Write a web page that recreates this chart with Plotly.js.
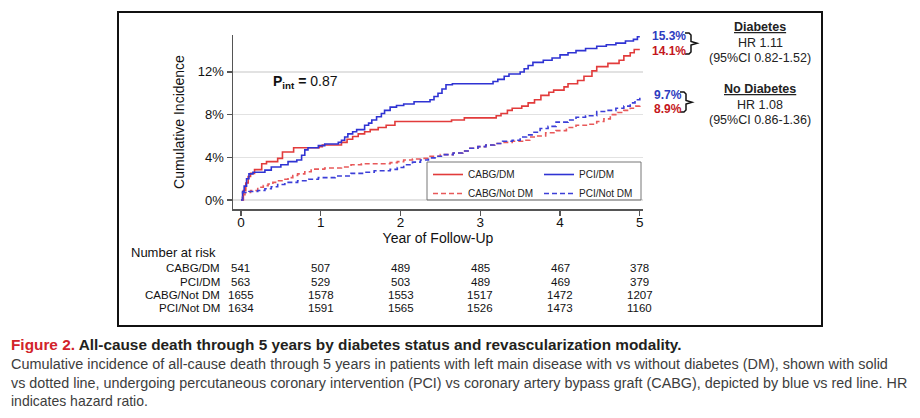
<!DOCTYPE html>
<html><head><meta charset="utf-8">
<script src="https://cdn.plot.ly/plotly-3.0.1.min.js"></script>
<style>html,body{margin:0;padding:0;background:#fff}#chart{width:920px;height:418px}</style>
</head><body><div id="chart"></div>
<script>
// ---------- data ----------
const seriesNames = ['CABG/DM', 'PCI/DM', 'CABG/Not DM', 'PCI/Not DM'];

const cabgDmX = [0,0.03,0.06,0.09,0.12,0.17,0.26,0.32,0.46,0.52,0.66,0.98,1.02,1.26,1.33,1.40,1.47,1.55,1.62,1.72,1.82,1.93,2.64,2.80,3.20,3.26,3.34,3.40,3.52,3.60,3.68,3.76,3.86,3.92,4.05,4.10,4.22,4.30,4.40,4.46,4.60,4.74,4.80,4.88,4.93,5.0];
const cabgDmY = [0,0.9,1.6,2.2,2.5,2.85,3.4,3.6,3.9,4.5,4.9,5.0,5.15,5.4,5.7,5.95,6.2,6.4,6.6,6.8,7.0,7.35,7.5,7.7,7.9,8.1,8.4,8.6,8.8,9.1,9.4,9.8,10.1,10.3,10.6,10.9,11.2,11.6,12.1,12.5,12.8,13.1,13.5,13.8,14.1,14.1];

const pciDmX = [0,0.02,0.04,0.07,0.10,0.15,0.30,0.38,0.50,0.59,0.70,0.76,0.80,0.84,0.97,1.05,1.22,1.26,1.30,1.34,1.40,1.45,1.55,1.60,1.64,1.70,1.76,1.80,1.87,1.95,2.04,2.17,2.37,2.42,2.47,2.52,2.57,2.65,3.16,3.22,3.30,3.36,3.50,3.55,3.60,3.66,3.79,3.90,4.00,4.10,4.20,4.32,4.46,4.58,4.70,4.82,4.92,4.97,5.0];
const pciDmY = [0,0.8,1.3,2.0,2.45,2.6,2.8,3.1,3.3,3.6,3.75,4.2,4.7,4.9,5.1,5.25,5.4,5.6,5.9,6.2,6.4,6.6,7.0,7.2,7.5,7.8,8.1,8.4,8.7,8.85,9.0,9.2,9.4,9.7,10.0,10.4,10.8,10.9,11.1,11.3,11.6,11.8,12.0,12.3,12.6,12.9,13.1,13.3,13.6,13.8,14.0,14.2,14.4,14.55,14.7,14.9,15.05,15.3,15.3];

const cabgNotDmX = [0,0.02,0.05,0.12,0.21,0.28,0.34,0.40,0.46,0.53,0.59,0.65,0.71,0.80,0.88,1.05,1.26,1.38,1.51,1.70,1.87,1.96,2.04,2.15,2.25,2.37,2.50,2.66,2.78,2.87,2.97,3.07,3.18,3.28,3.40,3.53,3.62,3.70,3.82,3.95,4.08,4.20,4.33,4.46,4.55,4.63,4.72,4.80,4.88,4.95,5.0];
const cabgNotDmY = [0,0.5,0.7,0.9,1.2,1.35,1.5,1.65,1.8,1.95,2.1,2.3,2.45,2.65,2.9,3.0,3.1,3.3,3.4,3.4,3.5,3.6,3.75,3.85,3.9,4.1,4.25,4.4,4.6,4.85,5.0,5.15,5.3,5.4,5.5,5.6,5.9,6.0,6.3,6.5,6.8,7.0,7.1,7.35,7.6,8.0,8.2,8.4,8.6,8.8,8.9];

const pciNotDmX = [0,0.02,0.10,0.21,0.30,0.38,0.46,0.55,0.71,0.85,0.97,1.18,1.38,1.55,1.67,1.87,1.96,2.04,2.15,2.25,2.35,2.45,2.55,2.66,2.78,2.87,2.97,3.07,3.18,3.28,3.40,3.50,3.58,3.66,3.75,3.85,3.95,4.10,4.20,4.32,4.46,4.58,4.70,4.80,4.88,4.94,5.0];
const pciNotDmY = [0,0.7,0.8,0.9,1.05,1.25,1.45,1.65,1.8,1.95,2.1,2.25,2.5,2.6,2.75,2.87,3.05,3.3,3.55,3.75,3.95,4.1,4.25,4.4,4.6,4.85,5.0,5.15,5.3,5.5,5.6,5.9,6.1,6.35,6.7,6.9,7.3,7.5,7.75,7.9,8.3,8.4,8.6,8.8,9.1,9.4,9.7];

const yTickVals = [0, 4, 8, 12];
const yTickText = ['0%', '4%', '8%', '12%'];
const xTickVals = [0, 1, 2, 3, 4, 5];

const riskYears = [0, 1, 2, 3, 4, 5];
const riskCabgDm = [541, 507, 489, 485, 467, 378];
const riskPciDm = [563, 529, 503, 489, 469, 379];
const riskCabgNotDm = [1655, 1578, 1553, 1517, 1472, 1207];
const riskPciNotDm = [1634, 1591, 1565, 1526, 1473, 1160];

const endDm = ['15.3%', '14.1%'];
const endNoDm = ['9.7%', '8.9%'];
const hrDm = ['Diabetes', 'HR 1.11', '(95%CI 0.82-1.52)'];
const hrNoDm = ['No Diabetes', 'HR 1.08', '(95%CI 0.86-1.36)'];
const pInt = '0.87';

const captionLabel = 'Figure 2.';
const captionTitle = 'All-cause death through 5 years by diabetes status and revascularization modality.';
const captionLines = [
  'Cumulative incidence of all-cause death through 5 years in patients with left main disease with vs without diabetes (DM), shown with solid',
  'vs dotted line, undergoing percutaneous coronary intervention (PCI) vs coronary artery bypass graft (CABG), depicted by blue vs red line. HR',
  'indicates hazard ratio.'
];

// ---------- geometry / style ----------
const FW = 920, FH = 418;
const L = 233, R = 277, T = 35, B = 209;
const W = FW - L - R, H = FH - T - B;
const px = v => (v - L) / W;
const py = v => (FH - B - v) / H;
const pathFrom = pts => pts.map((p, i) => (i ? 'L' : 'M') + px(p[0]).toFixed(5) + ',' + py(p[1]).toFixed(5)).join(' ');

const RED = '#e23b3b', BLUE = '#2f33d3', RED_D = '#e8595a', BLUE_D = '#3c3fd8';
const FONT = 'Liberation Sans, Arial, sans-serif';
// caption: pixel rows and rendered widths (condensed face emulated by horizontal scaling)
const capRowsY = [344, 363.3, 382.7, 400.7];
const capWidths = [671, 877, 897, 137];

const mk = (name, x, y, color, dash, legend) => ({
  type: 'scatter', mode: 'lines', name, x, y, legend,
  line: {color, width: 1.6, dash, shape: 'hv'}, hoverinfo: 'skip'
});

const traces = [
  mk(seriesNames[0], cabgDmX, cabgDmY, RED, 'solid', 'legend'),
  mk(seriesNames[1], pciDmX, pciDmY, BLUE, 'solid', 'legend2'),
  mk(seriesNames[2], cabgNotDmX, cabgNotDmY, RED_D, '5px,3px', 'legend'),
  mk(seriesNames[3], pciNotDmX, pciNotDmY, BLUE_D, '5px,3px', 'legend2')
];

const ann = [];
ann.push({xref:'paper', yref:'paper', x:px(271), y:py(82), xanchor:'left', yanchor:'middle', showarrow:false,
  text:'<b>P<sub>int</sub> =</b> ' + pInt, font:{family:FONT, size:14, color:'#111'}});
const endFont = c => ({family:FONT, size:12, color:c});
ann.push({xref:'paper', yref:'paper', x:px(650), y:py(36), xanchor:'left', yanchor:'middle', showarrow:false, text:'<b>'+endDm[0]+'</b>', font:endFont('#2d3cc0')});
ann.push({xref:'paper', yref:'paper', x:px(650), y:py(51), xanchor:'left', yanchor:'middle', showarrow:false, text:'<b>'+endDm[1]+'</b>', font:endFont('#c4161c')});
ann.push({xref:'paper', yref:'paper', x:px(652), y:py(95), xanchor:'left', yanchor:'middle', showarrow:false, text:'<b>'+endNoDm[0]+'</b>', font:endFont('#2d3cc0')});
ann.push({xref:'paper', yref:'paper', x:px(652), y:py(109), xanchor:'left', yanchor:'middle', showarrow:false, text:'<b>'+endNoDm[1]+'</b>', font:endFont('#c4161c')});
const hrFont = {family:FONT, size:12.5, color:'#222'};
[[hrDm, 27], [hrNoDm, 89]].forEach(([lines, y0]) => {
  lines.forEach((t, i) => {
    ann.push({xref:'paper', yref:'paper', x:px(760), y:py(y0 + i * 15.5), xanchor:'center', yanchor:'middle', showarrow:false,
      text: i === 0 ? '<b><u>' + t + '</u></b>' : t, font:hrFont});
  });
});
// Number at risk
const rowYs = [268, 281.5, 294.5, 307.5];
const riskRows = [riskCabgDm, riskPciDm, riskCabgNotDm, riskPciNotDm];
ann.push({xref:'paper', yref:'paper', x:px(129), y:py(253), xanchor:'left', yanchor:'middle', showarrow:false,
  text:'Number at risk', font:{family:FONT, size:13, color:'#111'}});
riskRows.forEach((row, r) => {
  ann.push({xref:'paper', yref:'paper', x:px(222), y:py(rowYs[r]), xanchor:'right', yanchor:'middle', showarrow:false,
    text:seriesNames[r], font:{family:FONT, size:11.5, color:'#111'}});
  row.forEach((v, j) => {
    ann.push({xref:'x', yref:'paper', x:riskYears[j], y:py(rowYs[r]), xanchor:'center', yanchor:'middle', showarrow:false,
      text:String(v), font:{family:FONT, size:11.5, color:'#111'}});
  });
});
// Caption
const capIdx = [];
capIdx.push(ann.length);
ann.push({xref:'paper', yref:'paper', x:px(9), y:py(capRowsY[0]), xanchor:'left', yanchor:'middle', align:'left', showarrow:false,
  text:'<b><span style="color:#d2232a">' + captionLabel + '</span> ' + captionTitle + '</b>', font:{family:FONT, size:15, color:'#231f20'}});
captionLines.forEach((t, i) => {
  capIdx.push(ann.length);
  ann.push({xref:'paper', yref:'paper', x:px(9), y:py(capRowsY[i + 1]), xanchor:'left', yanchor:'middle', align:'left', showarrow:false,
    text:t, font:{family:FONT, size:15, color:'#3d3d3d'}});
});

const shapes = [
  {type:'rect', xref:'paper', yref:'paper', x0:px(118), x1:px(822), y0:py(12), y1:py(326), line:{color:'#111', width:2}, layer:'below'},
  {type:'rect', xref:'paper', yref:'paper', x0:px(427), x1:px(641), y0:py(162), y1:py(200), line:{color:'#777', width:1}, fillcolor:'rgba(255,255,255,0)'},
  {type:'path', xref:'paper', yref:'paper', line:{color:'#111', width:1.5},
    path: pathFrom([[685,33],[689,33],[691,35],[691,41.5],[697,43.3],[691,45],[691,52],[689,54],[685,54]])},
  {type:'path', xref:'paper', yref:'paper', line:{color:'#111', width:1.5},
    path: pathFrom([[680,92],[684,92],[686,94],[686,100.5],[692,102.2],[686,104],[686,110],[684,112],[680,112]])}
];

const layout = {
  width: FW, height: FH,
  margin: {l:L, r:R, t:T, b:B, pad:0},
  paper_bgcolor:'#fff', plot_bgcolor:'#fff',
  font:{family:FONT, color:'#222'},
  showlegend:true,
  legend:{x:px(428), y:py(160), xanchor:'left', yanchor:'top', orientation:'v', bgcolor:'rgba(0,0,0,0)', borderwidth:0,
    font:{family:FONT, size:10, color:'#222'}, tracegroupgap:0},
  legend2:{x:px(539), y:py(160), xanchor:'left', yanchor:'top', orientation:'v', bgcolor:'rgba(0,0,0,0)', borderwidth:0,
    font:{family:FONT, size:10, color:'#222'}, tracegroupgap:0},
  xaxis:{range:[-0.1, 5.04], tickvals:xTickVals, ticks:'outside', ticklen:5, tickwidth:1.2, tickcolor:'#555',
    showline:true, linecolor:'#555', linewidth:1.5, showgrid:false, zeroline:false, ticklabelstandoff:-5,
    tickfont:{family:FONT, size:13.5, color:'#111'},
    title:{text:'Year of Follow-Up', font:{family:FONT, size:14, color:'#111'}, standoff:0}},
  yaxis:{range:[-0.84, 15.46], tickvals:yTickVals, ticktext:yTickText, ticks:'outside', ticklen:5, tickwidth:1.2, tickcolor:'#555',
    showline:true, linecolor:'#555', linewidth:1.5, showgrid:true, gridcolor:'#e2e2e2', gridwidth:1.5, zeroline:false,
    tickfont:{family:FONT, size:13, color:'#111'},
    title:{text:'Cumulative Incidence', font:{family:FONT, size:14, color:'#111'}, standoff:10}},
  annotations: ann,
  shapes: shapes
};

Plotly.newPlot('chart', traces, layout, {staticPlot:true, displayModeBar:false}).then(gd => {
  // emulate the condensed caption face: scale each caption line horizontally about its left edge
  capIdx.forEach((ai, k) => {
    const t = gd.querySelector('.annotation[data-index="' + ai + '"] text.annotation-text');
    if (!t) return;
    const bb = t.getBBox();
    if (!bb.width) return;
    const s = capWidths[k] / bb.width;
    t.setAttribute('transform', 'translate(' + bb.x + ',0) scale(' + s.toFixed(4) + ',1) translate(' + (-bb.x) + ',0)');
  });
  // drop empty placeholder text nodes (e.g. unused legend titles)
  gd.querySelectorAll('text').forEach(el => { if (!el.textContent.trim()) el.remove(); });
});
</script>
</body></html>
